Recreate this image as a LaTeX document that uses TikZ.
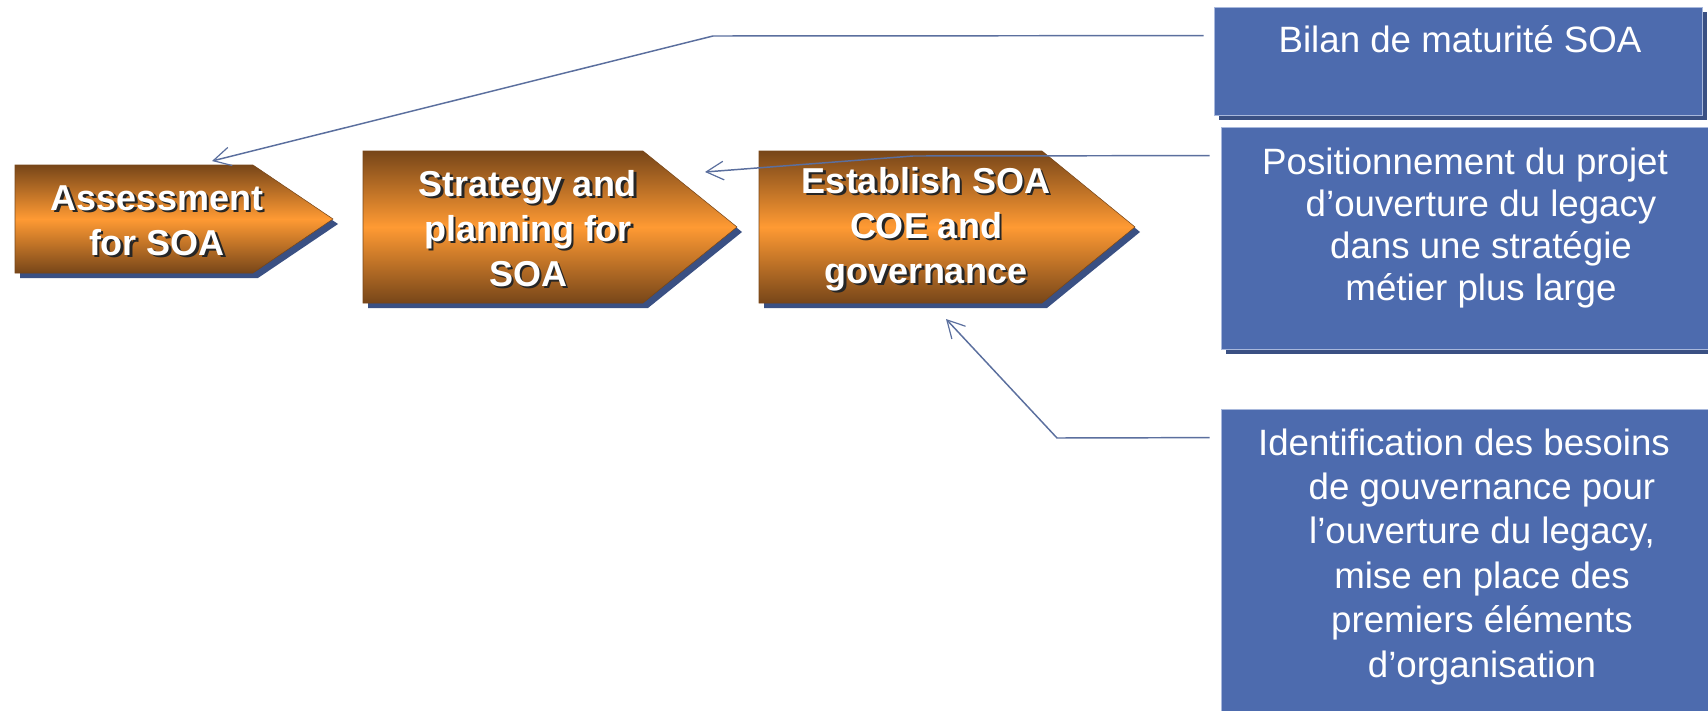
\documentclass[tikz,border=0pt]{standalone}
\usepackage{fontspec}
\setmainfont{Liberation Sans}
\usetikzlibrary{arrows.meta,calc}
\definecolor{boxblue}{HTML}{4D6BAE}
\definecolor{boxedge}{HTML}{A8B8DC}
\definecolor{shblue}{HTML}{3A5083}
\definecolor{brownd}{HTML}{774619}
\definecolor{orangem}{HTML}{FF9A33}
\definecolor{linec}{HTML}{5B6F9E}
\newcommand\shd[1]{\leavevmode\rlap{\kern1.6pt\raisebox{-1.6pt}{\color{black!85}#1}}#1}
\begin{document}
\begin{tikzpicture}[x=0.75pt,y=-0.75pt,
 bluebox/.style={rectangle, fill=boxblue, draw=boxedge, line width=0.6pt, inner sep=0pt,
   preaction={fill=shblue, transform canvas={shift={(5,5)}}}},
 boxtxt/.style={text=white, align=center, inner sep=0pt},
 chev/.style={top color=brownd, bottom color=brownd, middle color=orangem, draw=brownd, line width=0.4pt},
 chevsh/.style={fill=shblue},
 chevtxt/.style={text=white, font=\fontsize{27pt}{33.75pt}\selectfont\bfseries, align=center, inner sep=0pt},
 conn/.style={draw=linec, line width=1.1pt, -{Straight Barb[length=13pt,width=14pt,line width=0.9pt]}}
]
\useasboundingbox (0,0) rectangle (1708,710);

% chevrons (shadow then body)
\fill[chevsh, shift={(5,5)}] (15,165) -- (253,165) -- (333,219) -- (253,273) -- (15,273) -- cycle;
\path[chev] (15,165) -- (253,165) -- (333,219) -- (253,273) -- (15,273) -- cycle;
\fill[chevsh, shift={(5,5)}] (363,151) -- (643,151) -- (737,227) -- (643,303) -- (363,303) -- cycle;
\path[chev] (363,151) -- (643,151) -- (737,227) -- (643,303) -- (363,303) -- cycle;
\fill[chevsh, shift={(5,5)}] (759,151) -- (1042,151) -- (1135,227) -- (1042,303) -- (759,303) -- cycle;
\path[chev] (759,151) -- (1042,151) -- (1135,227) -- (1042,303) -- (759,303) -- cycle;

% (anchor=base is the baseline of the last line)
\node[chevtxt, anchor=base] (la) at (157,255) {\shd{Assessment}\\\shd{for SOA}};
\node[chevtxt, anchor=base] (ls) at (528,286) {\shd{Strategy and}\\\shd{planning for}\\\shd{SOA}};
\node[chevtxt, anchor=base] (le) at (926,283) {\shd{Establish SOA}\\\shd{COE and}\\\shd{governance}};

% blue boxes
\node[bluebox, minimum width=366pt, minimum height=81pt] (b1) at (1458,61) {};
\node[bluebox, minimum width=368.25pt, minimum height=166.5pt] (b2) at (1466.5,238) {};
\node[bluebox, minimum width=368.25pt, minimum height=233.25pt] (b3) at (1466.5,564.5) {};

\node[boxtxt, font=\fontsize{27.5pt}{31.3pt}\selectfont, anchor=base] (t1) at (1460,53) {Bilan de maturité SOA};
\node[boxtxt, font=\fontsize{27.5pt}{31.3pt}\selectfont, anchor=base] (t2) at (1481,300)
  {Positionnement du projet\hspace*{24pt}\\d’ouverture du legacy\\dans une stratégie\\métier plus large};
\node[boxtxt, font=\fontsize{27.5pt}{33.3pt}\selectfont, anchor=base] (t3) at (1482,677)
  {Identification des besoins\hspace*{27pt}\\de gouvernance pour\\l’ouverture du legacy,\\mise en place des\\premiers éléments\\d’organisation};

% connector targets and bends
\coordinate (ha) at (212,161);
\coordinate (hs) at (705,172);
\coordinate (he) at (946,319);
\coordinate (k1) at (713,36);
\coordinate (k2) at (913,156);
\coordinate (k3) at (1057,438);

\draw[conn] ($(b1.north west)+(-10,29)$) -- (k1) -- (ha);
\draw[conn] ($(b2.north west)+(-11,29)$) -- (k2) -- (hs);
\draw[conn] ($(b3.north west)+(-11,29)$) -- (k3) -- (he);
\end{tikzpicture}
\end{document}
